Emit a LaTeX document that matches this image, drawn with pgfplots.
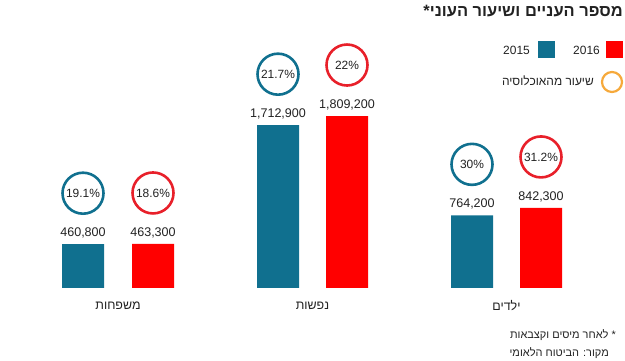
\documentclass[border=0pt]{standalone}
\usepackage{fontspec}
\setmainfont{Liberation Sans}
\newfontfamily\heb[Script=Hebrew]{Liberation Sans}
\TeXXeTstate=1
\usepackage{pgfplots}
\pgfplotsset{compat=1.18}
\definecolor{cblue}{HTML}{10708F}
\definecolor{cred}{HTML}{FF0000}
\definecolor{cred2}{HTML}{E8202A}
\definecolor{corange}{HTML}{F6A93B}
\definecolor{ctext}{HTML}{222222}
\begin{document}
\begin{tikzpicture}
\useasboundingbox (0,0) rectangle (625bp,361bp);
\begin{axis}[
  at={(0,0)}, anchor=south west,
  scale only axis, width=625bp, height=361bp,
  xmin=0, xmax=625, ymin=-767960, ymax=3029760,
  hide axis, clip=false,
]
% bars 2015
\addplot[ybar, bar width=42, bar shift=0pt, fill=cblue, draw=none,
  nodes near coords={\pgfmathprintnumber[fixed, precision=0, 1000 sep={,}, assume math mode=true]{\pgfplotspointmeta}},
  every node near coord/.append style={anchor=center, yshift=11bp, font=\fontsize{12.6}{14}\selectfont, text=ctext}]
  coordinates {(83,460800) (278,1712900) (472,764200)};
% bars 2016
\addplot[ybar, bar width=42, bar shift=0pt, fill=cred, draw=none,
  nodes near coords={\pgfmathprintnumber[fixed, precision=0, 1000 sep={,}, assume math mode=true]{\pgfplotspointmeta}},
  every node near coord/.append style={anchor=center, yshift=11bp, font=\fontsize{12.6}{14}\selectfont, text=ctext}]
  coordinates {(153,463300) (347,1809200) (541,842300)};
% poverty-rate circles 2015
\addplot[draw=none, mark=none, point meta=explicit symbolic,
  nodes near coords={\pgfplotspointmeta\%},
  every node near coord/.append style={anchor=center, yshift=51bp, circle, draw=cblue, line width=2.6bp, minimum size=41bp, inner sep=0pt, font=\fontsize{12}{14}\selectfont, text=ctext}]
  table[meta=p] {
x y p
83 460800 19.1
278 1712900 21.7
472 764200 30
};
% poverty-rate circles 2016
\addplot[draw=none, mark=none, point meta=explicit symbolic,
  nodes near coords={\pgfplotspointmeta\%},
  every node near coord/.append style={anchor=center, yshift=51bp, circle, draw=cred2, line width=2.6bp, minimum size=41bp, inner sep=0pt, font=\fontsize{12}{14}\selectfont, text=ctext}]
  table[meta=p] {
x y p
153 463300 18.6
347 1809200 22
541 842300 31.2
};
\end{axis}
\begin{scope}[x=1bp, y=-1bp, shift={(0,361bp)}]
  % title
  \node[anchor=east, inner sep=0pt, text=ctext] at (623,11) {\heb\fontsize{16.5}{19}\selectfont\bfseries\beginR מספר העניים ושיעור העוני*\endR};
  % legend
  \fill[cred] (606,41) rectangle (623,58);
  \node[anchor=east, inner sep=0pt, text=ctext, font=\fontsize{12}{14}\selectfont] at (600,50) {2016};
  \fill[cblue] (538,41) rectangle (555,58);
  \node[anchor=east, inner sep=0pt, text=ctext, font=\fontsize{12}{14}\selectfont] at (530,50) {2015};
  \draw[corange, line width=2.2bp] (612,82) circle (10);
  \node[anchor=east, inner sep=0pt, text=ctext] at (594,81) {\heb\fontsize{12}{14}\selectfont\beginR שיעור מהאוכלוסיה\endR};
  % category labels
  \node[text=ctext] at (118,306) {\heb\fontsize{12.5}{14}\selectfont\beginR משפחות\endR};
  \node[text=ctext] at (312.5,306) {\heb\fontsize{12.5}{14}\selectfont\beginR נפשות\endR};
  \node[text=ctext] at (506.5,306) {\heb\fontsize{12.5}{14}\selectfont\beginR ילדים\endR};
  % footnotes
  \node[anchor=east, inner sep=0pt, text=ctext] at (616,335) {\heb\fontsize{11}{13}\selectfont\beginR * לאחר מיסים וקצבאות\endR};
  \node[anchor=east, inner sep=0pt, text=ctext] at (609,353) {\heb\fontsize{11}{13}\selectfont\beginR מקור: הביטוח הלאומי\endR};
\end{scope}
\end{tikzpicture}
\end{document}
